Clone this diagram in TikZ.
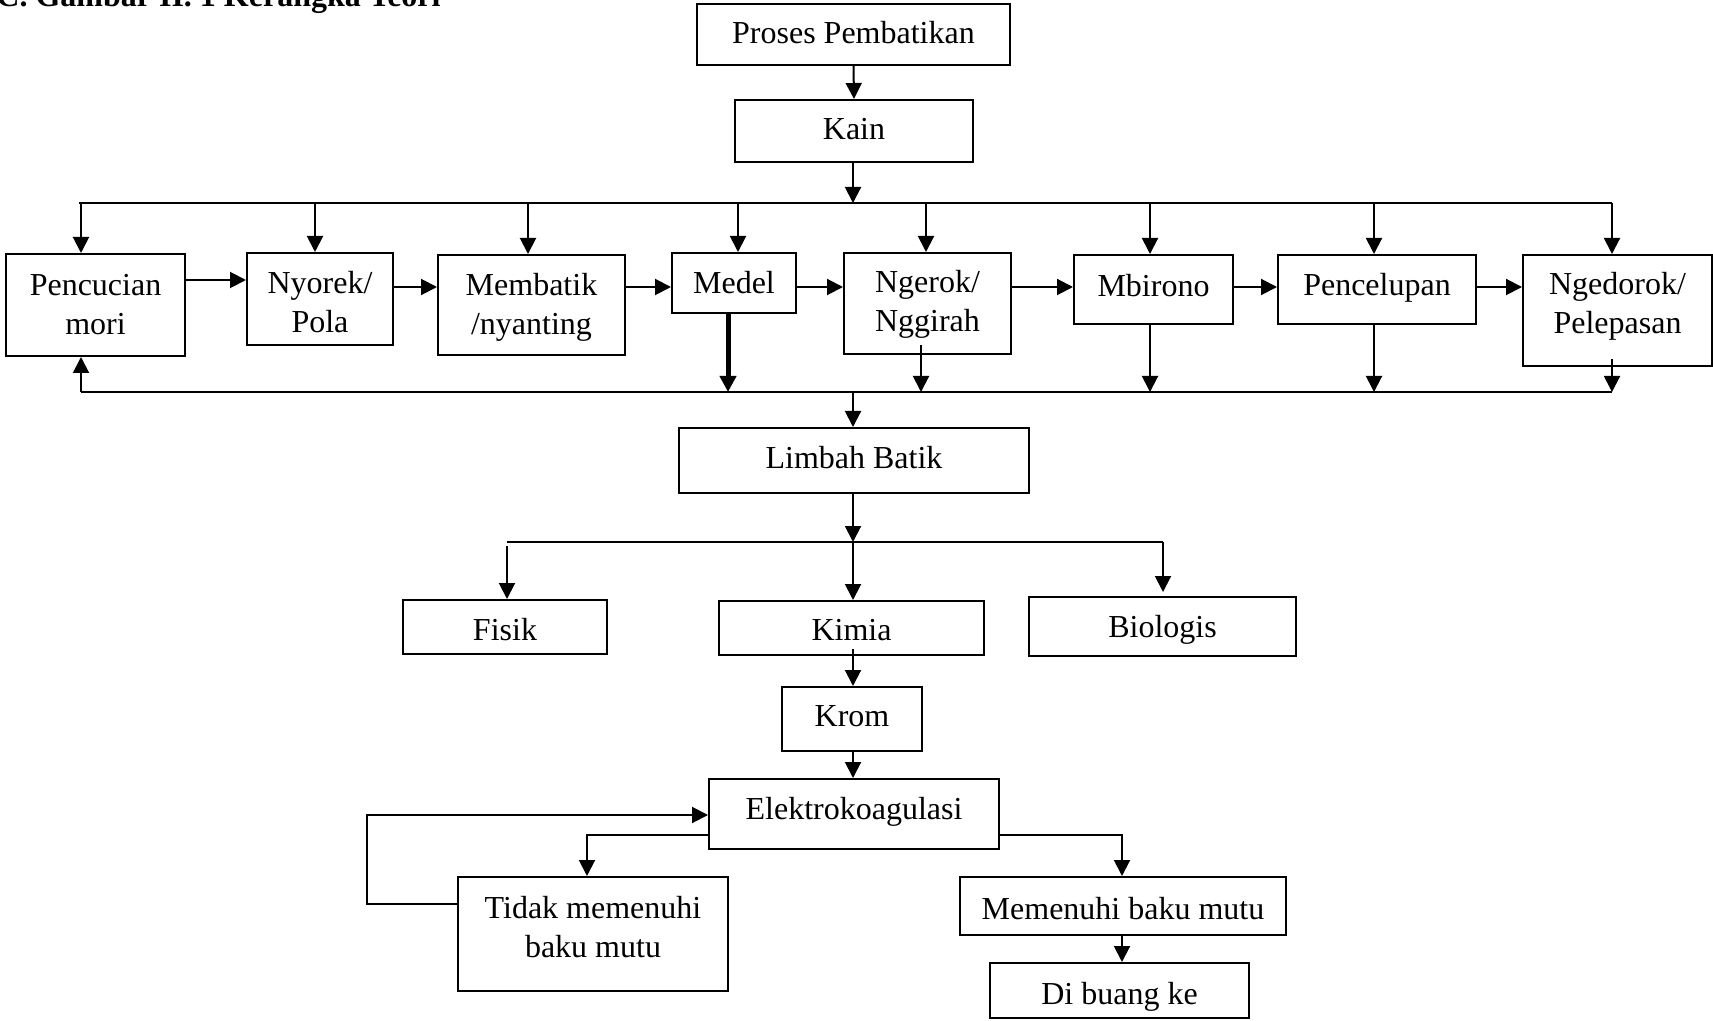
\documentclass[tikz,border=0pt]{standalone}
\usepackage{fontspec}
\setmainfont{Liberation Serif}
\usetikzlibrary{arrows.meta,calc}
\tikzset{
  box/.style={draw, line width=1pt, inner sep=0pt, align=center, font=\fontsize{16}{19.5}\selectfont, text height=15pt},
  box2/.style={box, text height=34.5pt},
  ln/.style={line width=1pt},
  arr/.style={line width=1pt, -{Triangle[length=8pt,width=8pt]}},
}
\begin{document}
\begin{tikzpicture}[x=0.5pt,y=-0.5pt]
\useasboundingbox (0,0) rectangle (1713,1021);
\fill[white] (0,0) rectangle (1713,1021);

\node[anchor=base west, inner sep=0pt, font=\bfseries\fontsize{16}{19}\selectfont] (title) at (-4,7) {C. Gambar II. 1 Kerangka Teori};

% boxes
\node[box, text depth=5.6pt, minimum width=156.5pt, minimum height=30.5pt] (proses) at (853.5,34.5) {Proses Pembatikan};
\node[box, text depth=6pt, minimum width=119pt, minimum height=31pt] (kain) at (854,131) {Kain};

\node[box2, text depth=5pt, minimum width=89.5pt, minimum height=51pt] (pencucian) at (95.5,305) {Pencucian\\mori};
\node[box2, text depth=1.4pt, minimum width=73pt, minimum height=46pt] (nyorek) at (320,299) {Nyorek/\\Pola};
\node[box2, text depth=4.6pt, minimum width=93.5pt, minimum height=50pt] (membatik) at (531.5,305) {Membatik\\/nyanting};
\node[box, text depth=4pt, minimum width=62pt, minimum height=30pt] (medel) at (734,283) {Medel};
\node[box2, text depth=6.4pt, minimum width=83.5pt, minimum height=50.5pt] (ngerok) at (927.5,303.5) {Ngerok/\\Nggirah};
\node[box, text depth=8.3pt, minimum width=79.5pt, minimum height=34.5pt] (mbirono) at (1153.5,289.5) {Mbirono};
\node[box, text depth=9.4pt, minimum width=99pt, minimum height=34.5pt] (pencelupan) at (1377,289.5) {Pencelupan};
\node[box2, text depth=11.2pt, minimum width=94.5pt, minimum height=55.5pt] (ngedorok) at (1617.5,310.5) {Ngedorok/\\Pelepasan};

\node[box, text depth=6.6pt, minimum width=175pt, minimum height=32.5pt] (limbah) at (854,460.5) {Limbah Batik};
\node[box, text depth=1.6pt, minimum width=102pt, minimum height=27pt] (fisik) at (505,627) {Fisik};
\node[box, text depth=2.6pt, minimum width=132.5pt, minimum height=27pt] (kimia) at (851.5,628) {Kimia};
\node[box, text depth=4.4pt, minimum width=133.5pt, minimum height=29.5pt] (biologis) at (1162.5,626.5) {Biologis};
\node[box, text depth=7.3pt, minimum width=70pt, minimum height=32pt] (krom) at (852,719) {Krom};
\node[box, text depth=9.5pt, minimum width=145pt, minimum height=35pt] (elektro) at (854,814) {Elektrokoagulasi};
\node[box2, text depth=11.5pt, minimum width=135pt, minimum height=57pt] (tidak) at (593,934) {Tidak memenuhi\\baku mutu};
\node[box, text depth=2pt, minimum width=163pt, minimum height=29pt] (memenuhi) at (1123,906) {Memenuhi baku mutu};
\node[box, text depth=1.3pt, minimum width=129.5pt, minimum height=27.5pt] (dibuang) at (1119.5,990.5) {Di buang ke};

% top part
\draw[arr] (proses.south) -- (kain.north);
\coordinate (TL) at (79,203);
\coordinate (TR) at (1612,203);
\coordinate (T) at (853,203);
\draw[ln] (TL) -- (TR);
\draw[arr] (kain.south -| T) -- (T);
\coordinate (t1) at (81,203);
\coordinate (t2) at (315,203);
\coordinate (t3) at (528,203);
\coordinate (t4) at (738,203);
\coordinate (t5) at (926,203);
\coordinate (t6) at (1150,203);
\coordinate (t7) at (1374,203);
\coordinate (t8) at (1612,203);
\draw[arr] (t1) -- (t1 |- pencucian.north);
\draw[arr] (t2) -- (t2 |- nyorek.north);
\draw[arr] (t3) -- (t3 |- membatik.north);
\draw[arr] (t4) -- (t4 |- medel.north);
\draw[arr] (t5) -- (t5 |- ngerok.north);
\draw[arr] (t6) -- (t6 |- mbirono.north);
\draw[arr] (t7) -- (t7 |- pencelupan.north);
\draw[arr] (t8) -- (t8 |- ngedorok.north);

% horizontal chain
\coordinate (h1) at (0,280);
\coordinate (h2) at (0,287);
\draw[arr] (h1 -| pencucian.east) -- (h1 -| nyorek.west);
\draw[arr] (h2 -| nyorek.east) -- (h2 -| membatik.west);
\draw[arr] (h2 -| membatik.east) -- (h2 -| medel.west);
\draw[arr] (h2 -| medel.east) -- (h2 -| ngerok.west);
\draw[arr] (h2 -| ngerok.east) -- (h2 -| mbirono.west);
\draw[arr] (h2 -| mbirono.east) -- (h2 -| pencelupan.west);
\draw[arr] (h2 -| pencelupan.east) -- (h2 -| ngedorok.west);

% bottom bus
\coordinate (BL) at (81,392);
\coordinate (BR) at (1612,392);
\coordinate (B) at (853,392);
\draw[ln] (BL) -- (BR);
\draw[arr] (BL) -- (BL |- pencucian.south);
\coordinate (b4) at (728,392);
\coordinate (b5) at (921,392);
\coordinate (b6) at (1150,392);
\coordinate (b7) at (1374,392);
\coordinate (b8) at (1612,392);
\draw[arr, line width=2.5pt] (b4 |- medel.south) -- (b4);
\draw[arr] ($(b5 |- ngerok.south)+(0,-10)$) -- (b5);
\draw[arr] (b6 |- mbirono.south) -- (b6);
\draw[arr] (b7 |- pencelupan.south) -- (b7);
\draw[arr] ($(b8 |- ngedorok.south)+(0,-8)$) -- (b8);
\draw[arr] (B) -- (B |- limbah.north);

% treatment split
\coordinate (L2) at (507,542);
\coordinate (R2) at (1163,542);
\coordinate (C2) at (853,542);
\draw[arr] (limbah.south -| C2) -- (C2);
\draw[ln] (L2) -- (R2);
\draw[arr] ($(L2)+(0,4)$) -- (L2 |- fisik.north);
\draw[arr] (C2) -- (C2 |- kimia.north);
\draw[arr] (R2) -- ($(R2 |- biologis.north)+(0,-4)$);

\draw[arr] ($(C2 |- kimia.south)+(0,-7)$) -- (C2 |- krom.north);
\draw[arr] (C2 |- krom.south) -- (C2 |- elektro.north);

% outcomes
\coordinate (ew) at (587,835);
\draw[arr] (ew -| elektro.west) -- (ew) -- (ew |- tidak.north);
\coordinate (lp1) at (367,904);
\coordinate (lp2) at (367,815);
\draw[arr] (lp1 -| tidak.west) -- (lp1) -- (lp2) -- (lp2 -| elektro.west);
\coordinate (ee) at (1122,835);
\draw[arr] (ee -| elektro.east) -- (ee) -- (ee |- memenuhi.north);
\draw[arr] (ee |- memenuhi.south) -- (ee |- dibuang.north);
\end{tikzpicture}
\end{document}
